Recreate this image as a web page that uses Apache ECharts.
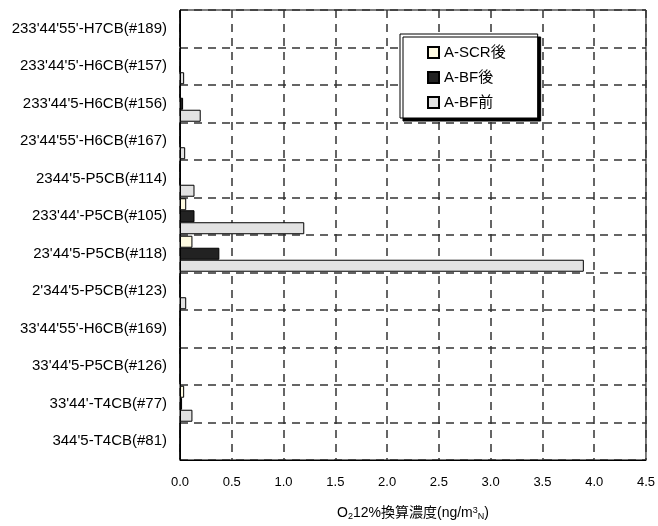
<!DOCTYPE html>
<html>
<head>
<meta charset="utf-8">
<script src="https://cdn.jsdelivr.net/npm/echarts@6/dist/echarts.min.js"></script>
<style>
  html, body { margin: 0; padding: 0; background: #fff; }
  #chart { width: 658px; height: 526px; }
</style>
</head>
<body>
<div id="chart"></div>
<script>
// PCB congeners, listed top to bottom
const categories = [
  "233'44'55'-H7CB(#189)",
  "233'44'5'-H6CB(#157)",
  "233'44'5-H6CB(#156)",
  "23'44'55'-H6CB(#167)",
  "2344'5-P5CB(#114)",
  "233'44'-P5CB(#105)",
  "23'44'5-P5CB(#118)",
  "2'344'5-P5CB(#123)",
  "33'44'55'-H6CB(#169)",
  "33'44'5-P5CB(#126)",
  "33'44'-T4CB(#77)",
  "344'5-T4CB(#81)"
];

// concentrations (ng/m3N, O2 12% basis)
const scrAfter = [0, 0, 0, 0, 0, 0.06, 0.12, 0, 0, 0, 0.04, 0];
const bfAfter  = [0, 0, 0.03, 0, 0, 0.14, 0.38, 0, 0, 0, 0.02, 0];
const bfBefore = [0, 0.04, 0.2, 0.05, 0.14, 1.2, 3.9, 0.06, 0, 0, 0.12, 0];

const seriesNames = ["A-SCR後", "A-BF後", "A-BF前"];
const seriesColors = ["#fffbe2", "#222222", "#e2e2e2"];

const font = "Liberation Sans, 'Noto Sans CJK JP', sans-serif";
const chart = echarts.init(document.getElementById('chart'));

function barSeries(i, data) {
  return {
    name: seriesNames[i],
    type: 'bar',
    data: data,
    barWidth: 12,
    barGap: '0%',
    itemStyle: { color: seriesColors[i], borderColor: '#000', borderWidth: 1 },
    emphasis: { disabled: true }
  };
}

function dashedLine() {
  return { show: true, lineStyle: { color: '#333', type: [8, 6], width: 1.5, dashOffset: 0 } };
}

chart.setOption({
  animation: false,
  textStyle: { fontFamily: font },
  grid: {
    left: 180, right: 12, top: 10, bottom: 64,
    show: true, borderColor: '#000', borderWidth: 1
  },
  legend: {
    orient: 'vertical',
    left: 400, top: 34,
    itemWidth: 11, itemHeight: 11,
    itemGap: 10,
    padding: [11, 32, 8, 27],
    backgroundColor: '#fff',
    borderColor: '#000',
    borderWidth: 1,
    shadowColor: '#000',
    shadowBlur: 0,
    shadowOffsetX: 3,
    shadowOffsetY: 3,
    textStyle: { fontSize: 15, color: '#000', fontFamily: font },
    data: seriesNames.map(n => ({ name: n, icon: 'rect' }))
  },
  xAxis: {
    type: 'value',
    min: 0, max: 4.5, interval: 0.5,
    axisLine: { show: true, lineStyle: { color: '#000' } },
    axisTick: { show: false },
    axisLabel: {
      fontSize: 13, color: '#000', margin: 16,
      formatter: v => v.toFixed(1)
    },
    splitLine: dashedLine(),
    name: 'O{sub|2}12%換算濃度(ng/m{sup|3}{sub|N})',
    nameLocation: 'middle',
    nameGap: 46,
    nameTextStyle: {
      fontSize: 14, color: '#000', fontFamily: font,
      rich: {
        sub: { fontSize: 9, verticalAlign: 'bottom', padding: [6, 0, 0, 0], color: '#000' },
        sup: { fontSize: 9, verticalAlign: 'top', padding: [0, 0, 6, 0], color: '#000' }
      }
    }
  },
  yAxis: {
    type: 'category',
    inverse: true,
    data: categories,
    axisLine: { show: true, lineStyle: { color: '#000' } },
    axisTick: { show: false },
    axisLabel: { fontSize: 15, color: '#000', margin: 13 },
    splitLine: dashedLine()
  },
  series: [
    barSeries(0, scrAfter),
    barSeries(1, bfAfter),
    barSeries(2, bfBefore)
  ]
});
</script>
</body>
</html>
